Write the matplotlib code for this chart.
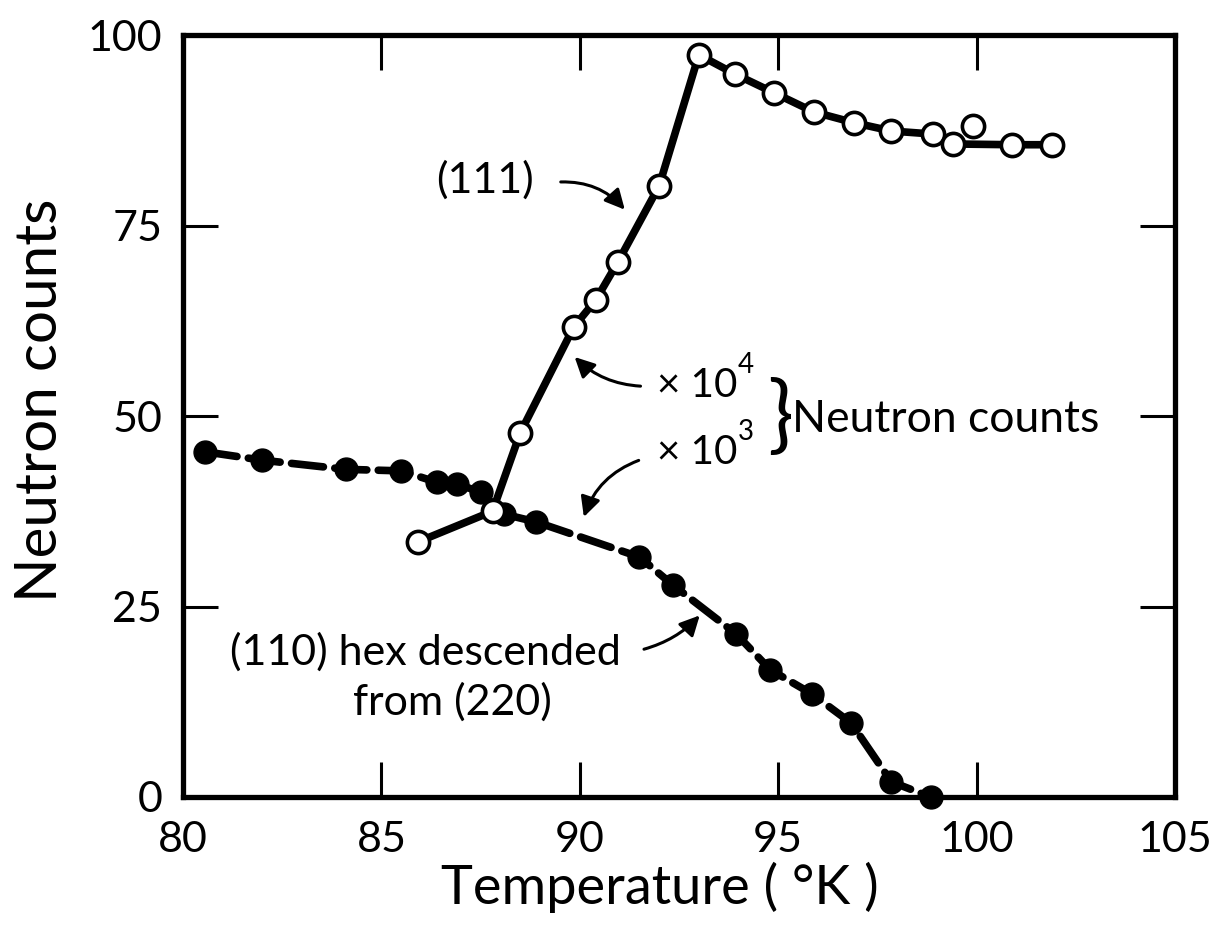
import matplotlib
matplotlib.use("Agg")
import matplotlib.pyplot as plt
import numpy as np

# (111) reflection, open circles (x 10^4 counts)
t111 = [85.93, 87.8, 88.5, 89.85, 90.4, 90.96, 92.0, 93.0, 93.9, 94.9, 95.9, 96.9, 97.85, 98.9, 99.4, 99.9, 100.9, 101.9]
c111 = [33.5, 37.5, 47.8, 61.7, 65.2, 70.2, 80.2, 97.4, 94.9, 92.4, 89.9, 88.5, 87.4, 87.0, 85.7, 88.1, 85.6, 85.6]
outlier111 = [99.9]  # point lying off the drawn curve

# (110) hex reflection, filled circles (x 10^3 counts)
t110 = [80.56, 82.0, 84.1, 85.5, 86.4, 86.9, 87.5, 88.1, 88.9, 91.5, 92.35, 93.94, 94.8, 95.86, 96.84, 97.85, 98.84]
c110 = [45.3, 44.2, 43.0, 42.8, 41.3, 41.1, 40.0, 37.1, 36.1, 31.5, 27.8, 21.4, 16.7, 13.5, 9.7, 2.0, 0.0]

xticks = [80, 85, 90, 95, 100, 105]
yticks = [0, 25, 50, 75, 100]

FONT = "Lato"
plt.rcParams['font.family'] = [FONT, 'DejaVu Sans']

fig = plt.figure(figsize=(12.22, 9.3), dpi=100)
ax = fig.add_axes([183/1222, 1-797/930, (1175-183)/1222, (797-35)/930])

# (110) dashed line with filled markers
ax.plot(t110, c110, color='black', lw=5.5, linestyle=(0, (4.2, 1.5)),
        solid_capstyle='round', dash_capstyle='round', zorder=2, clip_on=False)
ax.plot(t110, c110, 'o', ms=16.5, mfc='black', mec='black', zorder=3, clip_on=False)

# (111) solid line with open markers
tl = [t for t in t111 if t not in outlier111]
cl = [c for t, c in zip(t111, c111) if t not in outlier111]
ax.plot(tl, cl, color='black', lw=5.5, solid_capstyle='round', zorder=4)
ax.plot(t111, c111, 'o', ms=16, mfc='white', mec='black', mew=2.6, zorder=5, clip_on=False)

ax.set_xlim(80, 105)
ax.set_ylim(0, 100)
ax.set_xticks(xticks)
ax.set_yticks(yticks)
ax.set_xticklabels([str(v) for v in xticks])
ax.set_yticklabels([str(v) for v in yticks])
ax.tick_params(direction='in', length=25, width=2.2, top=True, right=True,
               labelsize=31, colors='black')
ax.tick_params(axis='x', pad=17)
ax.tick_params(axis='y', pad=15)
for s in ax.spines.values():
    s.set_linewidth(3.8)

ax.set_xlabel("Temperature ( °K )", fontsize=39, labelpad=2)
ax.xaxis.label.set_x(0.481)
ax.set_ylabel("Neutron counts", fontsize=42)
ax.yaxis.set_label_coords(-0.117, 0.521)

tk = dict(color='black', fontsize=31)
ax.text(87.6, 81.0, "(111)", ha='center', va='center', **tk)
ax.annotate("", xy=(91.18, 76.8), xytext=(89.45, 80.7),
            arrowprops=dict(arrowstyle='-|>', color='black', lw=2.2,
                            mutation_scale=30, connectionstyle='arc3,rad=-0.25'))

ax.text(91.95, 54.0, "× 10", ha='left', va='center', color='black', fontsize=29)
ax.text(93.98, 56.7, "4", ha='left', va='center', color='black', fontsize=20)
ax.annotate("", xy=(89.82, 58.0), xytext=(91.6, 53.9),
            arrowprops=dict(arrowstyle='-|>', color='black', lw=2.2,
                            mutation_scale=30, connectionstyle='arc3,rad=-0.2'))

ax.text(91.95, 45.2, "× 10", ha='left', va='center', color='black', fontsize=29)
ax.text(93.98, 47.9, "3", ha='left', va='center', color='black', fontsize=20)
ax.annotate("", xy=(90.08, 36.4), xytext=(91.55, 44.3),
            arrowprops=dict(arrowstyle='-|>', color='black', lw=2.2,
                            mutation_scale=30, connectionstyle='arc3,rad=0.25'))

ax.text(95.05, 49.6, "}", ha='center', va='center', color='black', fontsize=62)
ax.text(95.35, 49.6, "Neutron counts", ha='left', va='center', color='black', fontsize=32)

ax.text(86.12, 19.0, "(110) hex descended", ha='center', va='center', **tk)
ax.text(86.8, 12.4, "from (220)", ha='center', va='center', **tk)
ax.annotate("", xy=(93.07, 24.1), xytext=(91.55, 19.3),
            arrowprops=dict(arrowstyle='-|>', color='black', lw=2.2,
                            mutation_scale=30, connectionstyle='arc3,rad=0.15'))

fig.savefig("out.png", dpi=100)
